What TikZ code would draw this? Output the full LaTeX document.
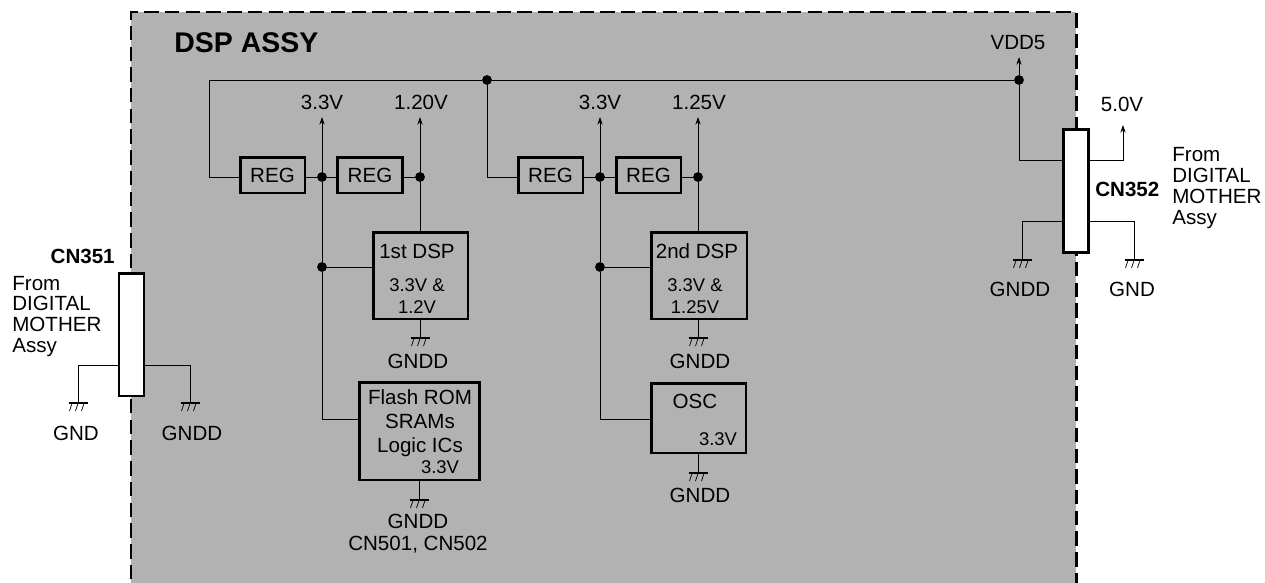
\documentclass[tikz,border=0pt]{standalone}
\usepackage{fontspec}
\usepackage{xcolor}
\usetikzlibrary{calc,arrows.meta,positioning}
\setmainfont{Liberation Sans}
\definecolor{assyGray}{RGB}{178,178,178}
\newcommand{\labelfont}{\fontsize{11.7}{11.9}\selectfont}
\newcommand{\smallfont}{\fontsize{10.5}{12.5}\selectfont}
\tikzset{
  wire/.style={line width=0.55pt},
  feed/.style={wire, -{Stealth[length=4.4pt,width=3pt]}},
  chip/.style={draw, line width=1.7pt, inner sep=0pt, font=\labelfont},
  conn/.style={chip, fill=white, minimum width=0.5cm, minimum height=2.46cm},
  reg/.style={chip, minimum width=1.3cm, minimum height=0.72cm},
  junct/.style={circle, fill=black, inner sep=0pt, minimum size=5.6pt},
  lbl/.style={inner sep=0pt, font=\labelfont},
  tiny/.style={inner sep=0pt, font=\smallfont, align=center},
  gndsym/.pic={
    \draw[line width=1.1pt] (-9.5,0)--(9.5,0);
    \foreach \hx in {-6,0,6} \draw[line width=0.4pt] (\hx,0.5)--(\hx-2.5,8);
  }
}
\begin{document}
\begin{tikzpicture}[x=0.02cm,y=-0.02cm]
\clip (0,0) rectangle (1265,582);
\fill[assyGray] (131,12) rectangle (1076,600);
\draw[line width=1.7pt, dash pattern=on 8.2pt off 3.6pt] (131,600)--(131,12)--(1076,12)--(1076,600);
\node[inner sep=0pt, anchor=west, font=\fontsize{16.2}{20}\selectfont\bfseries] (title) at (174,43) {DSP ASSY};

% connectors
\node[conn] (cnleft) at (131.5,334.5) {};
\node[conn] (cnright) at (1075.5,191) {};
\node[lbl, anchor=east, font=\labelfont\bfseries] (cnleftname) at (115,256) {CN351};
\node[lbl, anchor=west, font=\labelfont\bfseries] (cnrightname) at (1095,189) {CN352};
\node[lbl, anchor=west, align=left] (fromleft) at (12,316.5) {From\\DIGITAL\\MOTHER\\Assy};
\node[lbl, anchor=west, align=left] (fromright) at (1172,188) {From\\DIGITAL\\MOTHER\\Assy};

% regulators
\node[reg] (regA) at (272.5,175) {REG};
\node[reg] (regB) at (370,175) {REG};
\node[reg] (regC) at (550.5,175) {REG};
\node[reg] (regD) at (648.5,175) {REG};

% chips
\node[chip, minimum width=1.9cm, minimum height=1.74cm] (dspA) at (420.5,275.5) {};
\node[chip, minimum width=1.92cm, minimum height=1.74cm] (dspB) at (699,275.5) {};
\node[chip, minimum width=2.42cm, minimum height=1.96cm] (flash) at (419.5,431) {};
\node[chip, minimum width=1.9cm, minimum height=1.4cm] (osc) at (698.5,418) {};
\node[lbl] (dspAname) at (417,251) {1st DSP};
\node[tiny] (dspAvolt) at (417,296) {3.3V \&\\1.2V};
\node[lbl] (dspBname) at (697,251) {2nd DSP};
\node[tiny] (dspBvolt) at (695,296) {3.3V \&\\1.25V};
\node[lbl] (flashname) at (420,397) {Flash ROM};
\node[lbl] (sramname) at (420,421) {SRAMs};
\node[lbl] (logicname) at (420,447) {Logic ICs};
\node[tiny] (flashvolt) at (440,467) {3.3V};
\node[lbl] (oscname) at (695,401) {OSC};
\node[tiny] (oscvolt) at (718,439) {3.3V};

% junctions
\node[junct] (dotmid) at (487,80) {};
\node[junct] (dotvdd) at (1019,80) {};
\node[junct] (dotA) at (322,177) {};
\node[junct] (dotB) at (420,177) {};
\node[junct] (dotC) at (600,177) {};
\node[junct] (dotD) at (698,177) {};
\node[junct] (dotE) at (322,267) {};
\node[junct] (dotF) at (600,267) {};

% voltage labels
\node[lbl] (voltA) at (322,102) {3.3V};
\node[lbl] (voltB) at (421,102) {1.20V};
\node[lbl] (voltC) at (600,102) {3.3V};
\node[lbl] (voltD) at (699,102) {1.25V};
\node[lbl] (vddname) at (1018,43) {VDD5};
\node[lbl] (fivename) at (1122,104) {5.0V};

% rails
\coordinate (topleft) at (209,80);
\coordinate (regAin) at (209,177);
\coordinate (regCin) at (487,177);
\draw[wire] (regA.west|-regAin)--(regAin)--(topleft)--(dotmid)--(dotvdd);
\draw[wire] (dotmid)--(regCin)--(regC.west|-regCin);
\draw[wire] (regA.east|-dotA)--(dotA)--(regB.west|-dotA);
\draw[wire] (regB.east|-dotB)--(dotB);
\draw[wire] (regC.east|-dotC)--(dotC)--(regD.west|-dotC);
\draw[wire] (regD.east|-dotD)--(dotD);

% outputs
\coordinate (tipA) at (322,117);
\coordinate (tipB) at (420,117);
\coordinate (tipC) at (600,117);
\coordinate (tipD) at (698,117);
\coordinate (tipvdd) at (1019,57);
\coordinate (tipfive) at (1123,125);
\draw[feed] (dotA)--(tipA);
\draw[feed] (dotB)--(tipB);
\draw[feed] (dotC)--(tipC);
\draw[feed] (dotD)--(tipD);
\draw[feed] (dotvdd)--(tipvdd);
\draw[feed] (cnright.east|-0,160)-|(tipfive);
\draw[wire] (dotvdd)|-(cnright.west|-0,160);

% supply to chips
\draw[wire] (dotA)--(dotE);
\draw[wire] (dotE)--(dotE-|dspA.west);
\draw[wire] (dotE)|-(flash.west|-0,419);
\draw[wire] (dotB)--(dotB|-dspA.north);
\draw[wire] (dotC)--(dotF);
\draw[wire] (dotF)--(dotF-|dspB.west);
\draw[wire] (dotF)|-(osc.west|-0,419);
\draw[wire] (dotD)--(dotD|-dspB.north);

% grounds
\coordinate (gndA) at (78,403);
\coordinate (gndB) at (190,403);
\coordinate (gndC) at (420,338);
\coordinate (gndD) at (419,500);
\coordinate (gndE) at (698,338);
\coordinate (gndF) at (698,473);
\coordinate (gndG) at (1022,260);
\coordinate (gndH) at (1134,260);
\draw[wire] (cnleft.west|-0,365)-|(gndA);
\draw[wire] (cnleft.east|-0,365)-|(gndB);
\draw[wire] (gndC|-dspA.south)--(gndC);
\draw[wire] (gndD|-flash.south)--(gndD);
\draw[wire] (gndE|-dspB.south)--(gndE);
\draw[wire] (gndF|-osc.south)--(gndF);
\draw[wire] (cnright.west|-0,221)-|(gndG);
\draw[wire] (cnright.east|-0,221)-|(gndH);
\foreach \g in {gndA,gndB,gndC,gndD,gndE,gndF,gndG,gndH}
  \pic at (\g) {gndsym};

\node[lbl] (gndAname) at (76,433) {GND};
\node[lbl] (gndBname) at (192,433) {GNDD};
\node[lbl] (gndCname) at (418,361) {GNDD};
\node[lbl] (gndDname) at (418,521) {GNDD};
\node[lbl] (cnlist) at (418,545) {CN501, CN502};
\node[lbl] (gndEname) at (700,361) {GNDD};
\node[lbl] (gndFname) at (700,495) {GNDD};
\node[lbl] (gndGname) at (1020,289) {GNDD};
\node[lbl] (gndHname) at (1132,289) {GND};
\end{tikzpicture}
\end{document}
